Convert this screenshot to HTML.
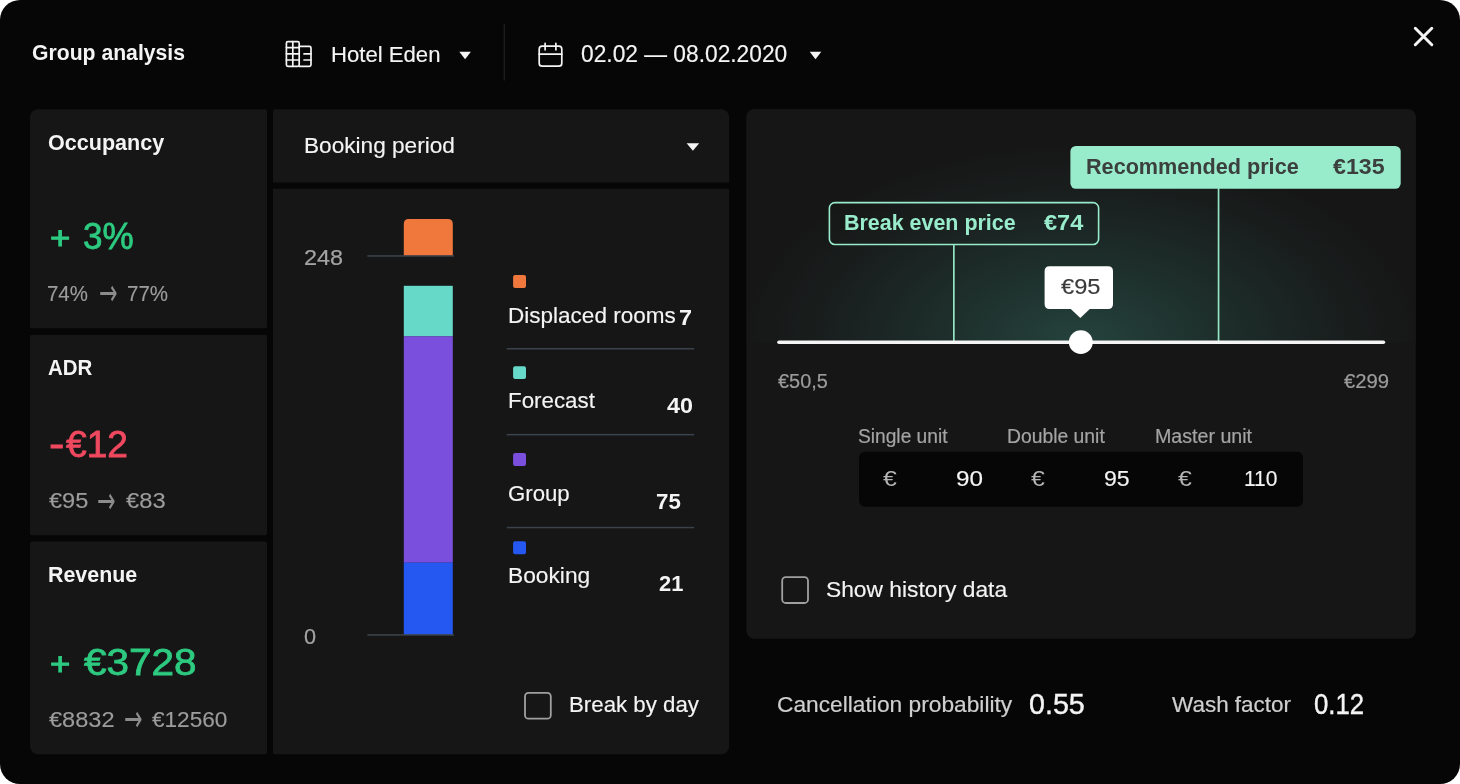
<!DOCTYPE html>
<html lang="en">
<head>
<meta charset="utf-8">
<title>Group analysis</title>
<style>
html,body{margin:0;padding:0;background:#fff;}
body{width:1460px;height:784px;overflow:hidden;font-family:"Liberation Sans",sans-serif;}
#app{position:relative;width:1460px;height:784px;background:#060606;border-radius:20px;overflow:hidden;}
#shapes{position:absolute;left:0;top:0;}
.t{position:absolute;white-space:nowrap;line-height:1;transform-origin:0 50%;}
</style>
</head>
<body>
<div id="app">
<svg id="shapes" width="1460" height="784" viewBox="0 0 1460 784" fill="none">
 <defs>
  <radialGradient id="glow" gradientUnits="userSpaceOnUse" cx="1080.8" cy="342" r="338" gradientTransform="translate(0 342) scale(1 0.585) translate(0 -342)">
   <stop offset="0" stop-color="#25423c"/>
   <stop offset="0.38" stop-color="#1e302c"/>
   <stop offset="0.75" stop-color="#191f1e"/>
   <stop offset="1" stop-color="#161616"/>
  </radialGradient>
  <clipPath id="rp"><path d="M754.4 109.2H1407.8A8 8 0 0 1 1415.8 117.2V630.8A8 8 0 0 1 1407.8 638.8H754.4A8 8 0 0 1 746.4 630.8V117.2A8 8 0 0 1 754.4 109.2Z"/></clipPath>
 </defs>

 <!-- panels -->
 <g fill="#161616">
  <path d="M38 109.2H265A2 2 0 0 1 267 111.2V326.2A2 2 0 0 1 265 328.2H32A2 2 0 0 1 30 326.2V117.2A8 8 0 0 1 38 109.2Z"/>
  <path d="M32 334.7H265A2 2 0 0 1 267 336.7V533.2A2 2 0 0 1 265 535.2H32A2 2 0 0 1 30 533.2V336.7A2 2 0 0 1 32 334.7Z"/>
  <path d="M32 541.5H265A2 2 0 0 1 267 543.5V752.3A2 2 0 0 1 265 754.3H38A8 8 0 0 1 30 746.3V543.5A2 2 0 0 1 32 541.5Z"/>
  <path d="M275 109.2H721.2A8 8 0 0 1 729.2 117.2V182.4H273V111.2A2 2 0 0 1 275 109.2Z"/>
  <path d="M273 188.8H729.2V746.3A8 8 0 0 1 721.2 754.3H275A2 2 0 0 1 273 752.3V188.8Z"/>
  <path d="M754.4 109.2H1407.8A8 8 0 0 1 1415.8 117.2V630.8A8 8 0 0 1 1407.8 638.8H754.4A8 8 0 0 1 746.4 630.8V117.2A8 8 0 0 1 754.4 109.2Z"/>
 </g>
 <rect x="746.4" y="109.2" width="669.4" height="233" fill="url(#glow)" clip-path="url(#rp)"/>

 <!-- header icons -->
 <g stroke="#f4f4f4" stroke-width="1.7" stroke-linejoin="round" stroke-linecap="round">
  <rect x="286.4" y="41.7" width="12.8" height="24.6" rx="1.5"/>
  <path d="M292.8 41.7V66.3M286.4 47.6H299.2M286.4 53.8H299.2M286.4 60H299.2"/>
  <path d="M299.2 46.4H309.4Q311 46.4 311 48V64.7Q311 66.3 309.4 66.3H299.2"/>
  <path d="M304 53.9H311M304 60H311"/>
  <rect x="539.2" y="46.2" width="22.6" height="20" rx="3"/>
  <path d="M539.2 54.2H561.8M545.1 43.3V49.8M555.9 43.3V49.8"/>
  <path d="M1415.3 28.3L1431.8 44.7M1431.8 28.3L1415.3 44.7" stroke-width="3"/>
 </g>
 <g fill="#f4f4f4">
  <path d="M459.3 51.8H470.9L465.1 59.3Z"/>
  <path d="M809.7 51.8H821.3L815.5 59.3Z"/>
  <path d="M686.6 143.2H699.2L692.9 150.8Z"/>
 </g>
 <rect x="503.6" y="24" width="1.4" height="56.5" fill="#1c1c1c"/>

 <!-- stacked bar -->
 <path d="M403.8 255.5V224Q403.8 219 408.8 219H447.8Q452.8 219 452.8 224V255.5Z" fill="#f0783c"/>
 <rect x="403.8" y="285.8" width="49" height="50.6" fill="#66d9c9"/>
 <rect x="403.8" y="336.3" width="49" height="226.4" fill="#7a4fdd"/>
 <rect x="403.8" y="562.6" width="49" height="72" fill="#2458f0"/>
 <rect x="367.4" y="255.3" width="86.6" height="1.3" fill="#454c55"/>
 <rect x="367.4" y="634.3" width="86.6" height="1.3" fill="#454c55"/>

 <!-- legend squares and separators -->
 <rect x="513.1" y="275.1" width="12.9" height="12.9" rx="2" fill="#f0783c"/>
 <rect x="513.1" y="366.2" width="12.9" height="12.9" rx="2" fill="#66d9c9"/>
 <rect x="513.1" y="453" width="12.9" height="12.9" rx="2" fill="#7a4fdd"/>
 <rect x="513.1" y="541.3" width="12.9" height="12.9" rx="2" fill="#2458f0"/>
 <rect x="506.8" y="348" width="187.4" height="1.5" fill="#3a424b"/>
 <rect x="506.8" y="433.9" width="187.4" height="1.5" fill="#3a424b"/>
 <rect x="506.8" y="526.8" width="187.4" height="1.5" fill="#3a424b"/>

 <!-- checkboxes -->
 <rect x="525" y="692.9" width="25.8" height="25.8" rx="3.5" stroke="#a0a0a0" stroke-width="1.8"/>
 <rect x="782.2" y="577.2" width="25.8" height="25.8" rx="3.5" stroke="#a0a0a0" stroke-width="1.8"/>

 <!-- recommended price marker -->
 <rect x="1070.4" y="146" width="330.3" height="42.8" rx="5.5" fill="#98ebcb"/>
 <rect x="1217.7" y="188" width="1.7" height="153" fill="#93e4c4"/>
 <!-- break even marker -->
 <rect x="829.4" y="202.6" width="269.2" height="41.9" rx="5.5" stroke="#98ebcb" stroke-width="1.6"/>
 <rect x="953" y="245" width="1.7" height="96" fill="#93e4c4"/>

 <!-- slider -->
 <rect x="777.2" y="340.4" width="608" height="3.6" rx="1.8" fill="#f4f4f4"/>
 <circle cx="1080.8" cy="342.2" r="11.9" fill="#fff"/>
 <path d="M1049.6 266.2H1108Q1113 266.2 1113 271.2V304Q1113 309 1108 309H1089.8L1080.3 318L1070.8 309H1049.6Q1044.6 309 1044.6 304V271.2Q1044.6 266.2 1049.6 266.2Z" fill="#fff"/>

 <!-- unit inputs -->
 <rect x="859" y="451.8" width="444" height="55" rx="6" fill="#060606"/>
</svg>

<span class="t" style='left:32.11px;top:42.00px;font-size:21.67px;font-weight:700;color:#f4f4f4;transform:scaleX(0.9777);'>Group analysis</span>
<span class="t" style='left:330.84px;top:43.00px;font-size:22.73px;color:#f4f4f4;-webkit-text-stroke:0.15px #f4f4f4;transform:scaleX(0.9740);'>Hotel Eden</span>
<span class="t" style='left:581.13px;top:43.00px;font-size:23.04px;color:#f4f4f4;-webkit-text-stroke:0.15px #f4f4f4;transform:scaleX(0.9880);'>02.02 — 08.02.2020</span>
<span class="t" style='left:48.43px;top:132.00px;font-size:22.2px;font-weight:700;color:#f4f4f4;transform:scaleX(0.9721);'>Occupancy</span>
<span class="t" style='left:49.61px;top:223.00px;font-size:31.71px;color:#2dca80;-webkit-text-stroke:1.0px #2dca80;transform:scaleX(1.0954);'>+</span>
<span class="t" style='left:83.01px;top:218.00px;font-size:37.84px;color:#2dca80;-webkit-text-stroke:0.8px #2dca80;transform:scaleX(0.9268);'>3%</span>
<span class="t" style='left:46.97px;top:283.00px;font-size:22.51px;color:#9c9c9c;-webkit-text-stroke:0.15px #9c9c9c;transform:scaleX(0.9078);'>74%</span>
<span class="t" style='left:99.17px;top:275.00px;font-size:36px;color:#8c8c8c;font-family:"DejaVu Sans", "Liberation Sans", sans-serif;transform:scaleX(0.6151);'>→</span>
<span class="t" style='left:127.43px;top:283.00px;font-size:22.51px;color:#9c9c9c;-webkit-text-stroke:0.15px #9c9c9c;transform:scaleX(0.9125);'>77%</span>
<span class="t" style='left:48.01px;top:357.00px;font-size:22.2px;font-weight:700;color:#f4f4f4;transform:scaleX(0.9225);'>ADR</span>
<span class="t" style='left:48.91px;top:425.00px;font-size:38.05px;color:#f0495f;-webkit-text-stroke:0.8px #f0495f;transform:scaleX(1.2122);'>-</span>
<span class="t" style='left:66.40px;top:426.00px;font-size:37.84px;color:#f0495f;-webkit-text-stroke:0.8px #f0495f;transform:scaleX(0.9826);'>€12</span>
<span class="t" style='left:48.90px;top:490.00px;font-size:22.51px;color:#9c9c9c;-webkit-text-stroke:0.15px #9c9c9c;transform:scaleX(1.0487);'>€95</span>
<span class="t" style='left:97.37px;top:483.00px;font-size:36px;color:#8c8c8c;font-family:"DejaVu Sans", "Liberation Sans", sans-serif;transform:scaleX(0.6151);'>→</span>
<span class="t" style='left:126.25px;top:490.00px;font-size:22.51px;color:#9c9c9c;-webkit-text-stroke:0.15px #9c9c9c;transform:scaleX(1.0541);'>€83</span>
<span class="t" style='left:48.00px;top:564.00px;font-size:22.2px;font-weight:700;color:#f4f4f4;transform:scaleX(0.9641);'>Revenue</span>
<span class="t" style='left:49.61px;top:649.00px;font-size:31.71px;color:#2dca80;-webkit-text-stroke:1.0px #2dca80;transform:scaleX(1.0954);'>+</span>
<span class="t" style='left:83.80px;top:644.00px;font-size:37.84px;color:#2dca80;-webkit-text-stroke:0.8px #2dca80;transform:scaleX(1.0701);'>€3728</span>
<span class="t" style='left:49.00px;top:709.00px;font-size:22.51px;color:#9c9c9c;-webkit-text-stroke:0.15px #9c9c9c;transform:scaleX(1.0483);'>€8832</span>
<span class="t" style='left:123.58px;top:701.00px;font-size:36px;color:#8c8c8c;font-family:"DejaVu Sans", "Liberation Sans", sans-serif;transform:scaleX(0.6146);'>→</span>
<span class="t" style='left:152.30px;top:709.00px;font-size:22.51px;color:#9c9c9c;-webkit-text-stroke:0.15px #9c9c9c;transform:scaleX(1.0038);'>€12560</span>
<span class="t" style='left:304.22px;top:134.00px;font-size:22.73px;color:#f4f4f4;-webkit-text-stroke:0.15px #f4f4f4;transform:scaleX(0.9957);'>Booking period</span>
<span class="t" style='left:304.42px;top:247.00px;font-size:22.51px;color:#a4a4a4;-webkit-text-stroke:0.2px #a4a4a4;transform:scaleX(1.0402);'>248</span>
<span class="t" style='left:303.98px;top:626.00px;font-size:22.51px;color:#a4a4a4;-webkit-text-stroke:0.2px #a4a4a4;transform:scaleX(0.9631);'>0</span>
<span class="t" style='left:508.22px;top:304.00px;font-size:22.73px;color:#f4f4f4;-webkit-text-stroke:0.15px #f4f4f4;transform:scaleX(0.9916);'>Displaced rooms</span>
<span class="t" style='left:678.88px;top:307.00px;font-size:21.67px;font-weight:700;color:#f4f4f4;transform:scaleX(1.0823);'>7</span>
<span class="t" style='left:508.12px;top:389.00px;font-size:22.73px;color:#f4f4f4;-webkit-text-stroke:0.15px #f4f4f4;transform:scaleX(0.9825);'>Forecast</span>
<span class="t" style='left:666.65px;top:395.00px;font-size:21.67px;font-weight:700;color:#f4f4f4;transform:scaleX(1.0769);'>40</span>
<span class="t" style='left:507.51px;top:482.00px;font-size:22.73px;color:#f4f4f4;-webkit-text-stroke:0.15px #f4f4f4;transform:scaleX(0.9775);'>Group</span>
<span class="t" style='left:655.87px;top:491.00px;font-size:21.67px;font-weight:700;color:#f4f4f4;transform:scaleX(1.0284);'>75</span>
<span class="t" style='left:508.20px;top:564.00px;font-size:22.73px;color:#f4f4f4;-webkit-text-stroke:0.15px #f4f4f4;transform:scaleX(1.0009);'>Booking</span>
<span class="t" style='left:659.24px;top:573.00px;font-size:21.67px;font-weight:700;color:#f4f4f4;transform:scaleX(1.0107);'>21</span>
<span class="t" style='left:568.57px;top:693.00px;font-size:22.73px;color:#f4f4f4;-webkit-text-stroke:0.15px #f4f4f4;transform:scaleX(0.9795);'>Break by day</span>
<span class="t" style='left:1086.37px;top:156.00px;font-size:22.2px;font-weight:700;color:#3b3f3d;transform:scaleX(0.9745);'>Recommended price</span>
<span class="t" style='left:1333.30px;top:156.00px;font-size:22.2px;font-weight:700;color:#3b3f3d;transform:scaleX(1.0443);'>€135</span>
<span class="t" style='left:843.61px;top:212.00px;font-size:22.2px;font-weight:700;color:#98ebcb;transform:scaleX(0.9664);'>Break even price</span>
<span class="t" style='left:1044.40px;top:212.00px;font-size:22.2px;font-weight:700;color:#98ebcb;transform:scaleX(1.0609);'>€74</span>
<span class="t" style='left:1060.90px;top:275.00px;font-size:22.73px;color:#3a3a3a;-webkit-text-stroke:0.15px #3a3a3a;transform:scaleX(1.0407);'>€95</span>
<span class="t" style='left:778.10px;top:372.00px;font-size:19.55px;color:#9c9c9c;-webkit-text-stroke:0.2px #9c9c9c;transform:scaleX(1.0186);'>€50,5</span>
<span class="t" style='left:1343.60px;top:372.00px;font-size:19.55px;color:#9c9c9c;-webkit-text-stroke:0.2px #9c9c9c;transform:scaleX(1.0385);'>€299</span>
<span class="t" style='left:858.19px;top:427.00px;font-size:19.55px;color:#a4a4a4;-webkit-text-stroke:0.2px #a4a4a4;transform:scaleX(0.9815);'>Single unit</span>
<span class="t" style='left:1007.39px;top:427.00px;font-size:19.55px;color:#a4a4a4;-webkit-text-stroke:0.2px #a4a4a4;transform:scaleX(0.9896);'>Double unit</span>
<span class="t" style='left:1154.60px;top:427.00px;font-size:19.55px;color:#a4a4a4;-webkit-text-stroke:0.2px #a4a4a4;transform:scaleX(1.0045);'>Master unit</span>
<span class="t" style='left:882.97px;top:467.00px;font-size:22.73px;color:#b4b4b4;transform:scaleX(1.0926);'>€</span>
<span class="t" style='left:956.29px;top:467.00px;font-size:22.73px;color:#f4f4f4;-webkit-text-stroke:0.15px #f4f4f4;transform:scaleX(1.0682);'>90</span>
<span class="t" style='left:1031.30px;top:467.00px;font-size:22.73px;color:#b4b4b4;transform:scaleX(1.0920);'>€</span>
<span class="t" style='left:1103.75px;top:467.00px;font-size:22.73px;color:#f4f4f4;-webkit-text-stroke:0.15px #f4f4f4;transform:scaleX(1.0147);'>95</span>
<span class="t" style='left:1177.76px;top:467.00px;font-size:22.73px;color:#b4b4b4;transform:scaleX(1.0937);'>€</span>
<span class="t" style='left:1244.34px;top:467.00px;font-size:22.73px;color:#f4f4f4;-webkit-text-stroke:0.15px #f4f4f4;transform:scaleX(0.9229);'>110</span>
<span class="t" style='left:825.85px;top:578.00px;font-size:22.73px;color:#f4f4f4;-webkit-text-stroke:0.15px #f4f4f4;transform:scaleX(1.0026);'>Show history data</span>
<span class="t" style='left:777.06px;top:693.00px;font-size:22.73px;color:#cfcfcf;-webkit-text-stroke:0.2px #cfcfcf;transform:scaleX(1.0013);'>Cancellation probability</span>
<span class="t" style='left:1028.93px;top:690.00px;font-size:29.17px;color:#f4f4f4;-webkit-text-stroke:0.4px #f4f4f4;transform:scaleX(0.9829);'>0.55</span>
<span class="t" style='left:1172.00px;top:693.00px;font-size:22.73px;color:#cfcfcf;-webkit-text-stroke:0.2px #cfcfcf;transform:scaleX(0.9895);'>Wash factor</span>
<span class="t" style='left:1313.77px;top:690.00px;font-size:29.17px;color:#f4f4f4;-webkit-text-stroke:0.4px #f4f4f4;transform:scaleX(0.8838);'>0.12</span>
</div>
</body>
</html>
